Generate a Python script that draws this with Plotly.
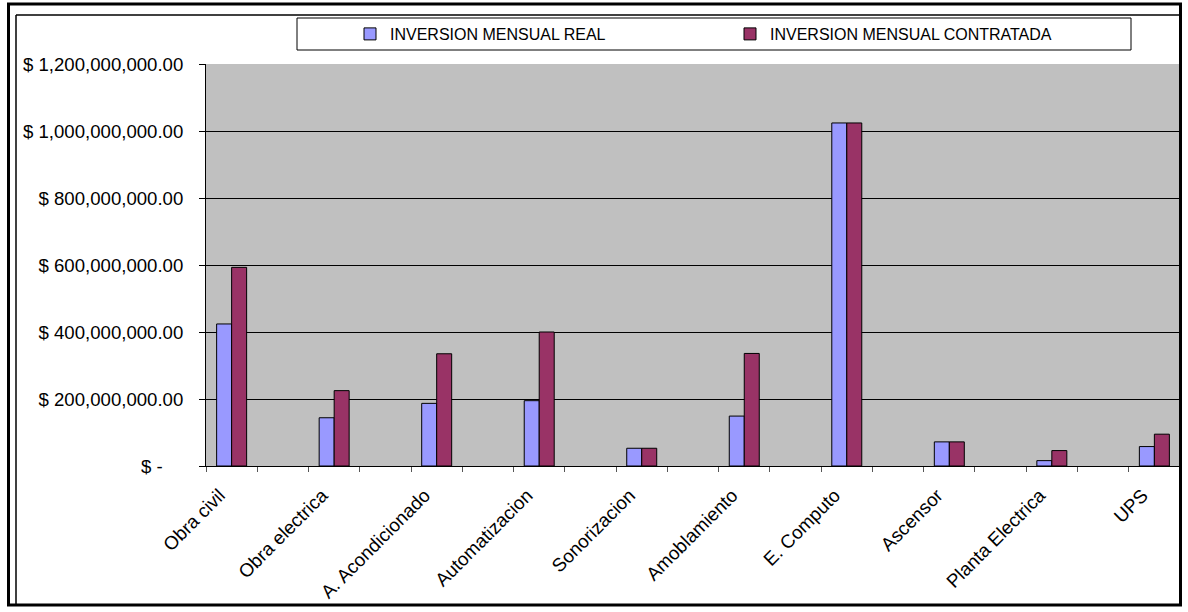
import plotly.graph_objects as go

# ---- data ----
categories = ["Obra civil", "Obra electrica", "A. Acondicionado", "Automatizacion",
              "Sonorizacion", "Amoblamiento", "E. Computo", "Ascensor",
              "Planta Electrica", "UPS"]
inversion_real = [424e6, 144e6, 187e6, 195e6, 53e6, 149e6, 1024e6, 72e6, 16e6, 58e6]
inversion_contratada = [593e6, 225e6, 335e6, 400e6, 53e6, 336e6, 1024e6, 72e6, 46e6, 95e6]
series_names = ["INVERSION MENSUAL REAL", "INVERSION MENSUAL CONTRATADA"]
y_ticks = [0, 200e6, 400e6, 600e6, 800e6, 1000e6, 1200e6]

# full category axis: an empty slot between each labelled category
full_axis = []
for i, c in enumerate(categories):
    full_axis.append(c)
    if i < len(categories) - 1:
        full_axis.append(" " * (i + 1))

def tick_label(v):
    if v == 0:
        return "$ -" + "\u00a0" * 4
    return f"$ {v:,.2f}"

# ---- layout geometry (pixels) ----
W_PX, H_PX = 1188, 612
L, R, T, B = 206, 1180, 64, 466
PW, PH = R - L, B - T

def px(x):
    return (x - L) / PW

def py(y):
    return (B - y) / PH

FONT = "Liberation Sans, Arial, sans-serif"

fig = go.Figure()
fig.add_trace(go.Bar(x=categories, y=inversion_real, name=series_names[0],
                     marker=dict(color="#9999FF", line=dict(color="black", width=1))))
fig.add_trace(go.Bar(x=categories, y=inversion_contratada, name=series_names[1],
                     marker=dict(color="#993366", line=dict(color="black", width=1))))

shapes = [
    # outer frame
    dict(type="rect", xref="paper", yref="paper", x0=px(8.5), x1=px(1180.5),
         y0=py(4), y1=py(605), line=dict(color="black", width=3), layer="above"),
    # inner thin lines (left, top)
    dict(type="line", xref="paper", yref="paper", x0=px(16), x1=px(16),
         y0=py(15), y1=py(605), line=dict(color="black", width=1.5), layer="above"),
    dict(type="line", xref="paper", yref="paper", x0=px(16), x1=px(1180),
         y0=py(15), y1=py(15), line=dict(color="black", width=1.5), layer="above"),
    # legend box
    dict(type="rect", xref="paper", yref="paper", x0=px(297), x1=px(1131),
         y0=py(18), y1=py(50), line=dict(color="black", width=1), layer="above"),
]

fig.update_layout(
    width=W_PX, height=H_PX,
    margin=dict(l=L, r=W_PX - R, t=T, b=H_PX - B, pad=0),
    paper_bgcolor="white", plot_bgcolor="#C0C0C0",
    font=dict(family=FONT, size=18, color="black"),
    barmode="group", bargap=0.415, bargroupgap=0,
    showlegend=True,
    legend=dict(orientation="h", x=px(350), xanchor="left", y=py(34), yanchor="middle",
                font=dict(size=16), bgcolor="rgba(0,0,0,0)", borderwidth=0,
                entrywidth=335, entrywidthmode="pixels", traceorder="normal"),
    shapes=shapes,
    xaxis=dict(type="category", categoryorder="array", categoryarray=full_axis,
               tickangle=-45, tickson="boundaries", ticks="outside", ticklen=5,
               tickcolor="#555555", showline=True, linecolor="black", linewidth=1,
               showgrid=False, tickfont=dict(size=18.8),
               ticklabelshift=-12, ticklabelstandoff=10),
    yaxis=dict(range=[0, 1.2e9], tickvals=y_ticks, ticktext=[tick_label(v) for v in y_ticks],
               showgrid=True, gridcolor="black", gridwidth=1, zeroline=False,
               showline=True, linecolor="black", linewidth=1,
               ticks="outside", ticklen=6, tickcolor="black", ticklabelstandoff=12,
               tickfont=dict(size=18.6)),
)

fig.write_html("out.html")
